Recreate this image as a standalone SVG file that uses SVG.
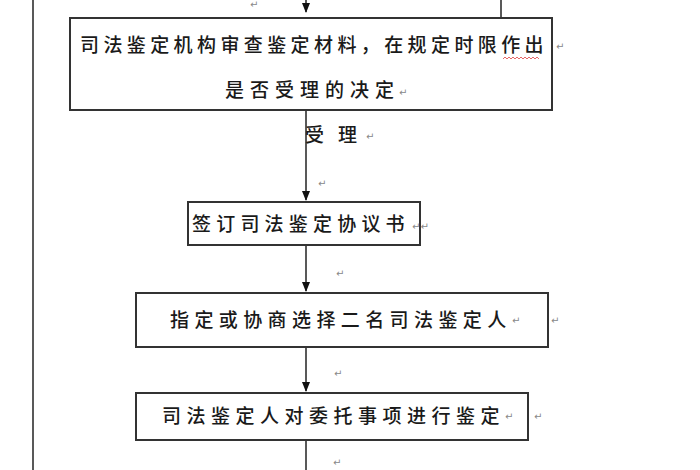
<svg xmlns="http://www.w3.org/2000/svg" width="700" height="470" viewBox="0 0 700 470">
<style>
.box{fill:#fff;stroke:#333;stroke-width:2}
.ln{stroke:#222;stroke-width:1.5;fill:none}
.t{font-family:"Noto Sans CJK SC","Noto Sans CJK JP",sans-serif;font-size:19px;fill:#1a1a1a;font-weight:500}
.pm{font-family:"DejaVu Sans",sans-serif;font-size:10px;fill:#888}
</style>
<defs>
<marker id="ah" markerWidth="10" markerHeight="10" refX="9" refY="5" orient="auto" markerUnits="userSpaceOnUse">
<path d="M0,1 L10,5 L0,9 Z" fill="#111"/>
</marker>
</defs>
<rect width="700" height="470" fill="#fff"/>
<g id="connectors">
<line class="ln" x1="33" y1="0" x2="33" y2="470"/>
<line class="ln" x1="501" y1="0" x2="501" y2="18"/>
<line class="ln" x1="306" y1="0" x2="306" y2="12" marker-end="url(#ah)"/>
<line class="ln" x1="306" y1="111" x2="306" y2="200" marker-end="url(#ah)"/>
<line class="ln" x1="306" y1="246" x2="306" y2="291" marker-end="url(#ah)"/>
<line class="ln" x1="306" y1="348" x2="306" y2="391" marker-end="url(#ah)"/>
<line class="ln" x1="306" y1="441" x2="306" y2="470"/>
<text class="t" x="305" y="142">受<tspan dx="14">理</tspan></text>
<text class="pm" x="366" y="140">↵</text>
<text class="pm" x="250" y="8">↵</text>
<text class="pm" x="318" y="187">↵</text>
<text class="pm" x="336" y="277">↵</text>
<text class="pm" x="334" y="377">↵</text>
<text class="pm" x="333" y="466">↵</text>
</g>
<g id="node1">
<rect class="box" x="70" y="18" width="482" height="92"/>
<text class="t" x="80" y="52" style="letter-spacing:4.4px">司法鉴定机构审查鉴定材料，在规定时限作出</text>
<path d="M503,59 l2,-2 l2,2 l2,-2 l2,2 l2,-2 l2,2 l2,-2 l2,2 l2,-2 l2,2 l2,-2 l2,2 l2,-2 l2,2 l2,-2 l2,2 l2,-2 l2,2" fill="none" stroke="#e04040" stroke-width="0.8"/>
<text class="pm" x="556" y="50">↵</text>
<text class="t" x="225" y="97" style="letter-spacing:6px">是否受理的决定</text>
<text class="pm" x="399" y="96">↵</text>
</g>
<g id="node2">
<rect class="box" x="188" y="202" width="232" height="43"/>
<text class="t" x="192" y="231" style="letter-spacing:5.2px">签订司法鉴定协议书</text>
<text class="pm" x="412" y="230">↵↵</text>
</g>
<g id="node3">
<rect class="box" x="136" y="293" width="412" height="54"/>
<text class="t" x="170" y="327" style="letter-spacing:5.4px">指定或协商选择二名司法鉴定人</text>
<text class="pm" x="512" y="324">↵</text>
<text class="pm" x="551" y="324">↵</text>
</g>
<g id="node4">
<rect class="box" x="136" y="393" width="392" height="47"/>
<text class="t" x="162" y="423" style="letter-spacing:5.5px">司法鉴定人对委托事项进行鉴定</text>
<text class="pm" x="505" y="420">↵</text>
<text class="pm" x="534" y="420">↵</text>
</g>
</svg>
